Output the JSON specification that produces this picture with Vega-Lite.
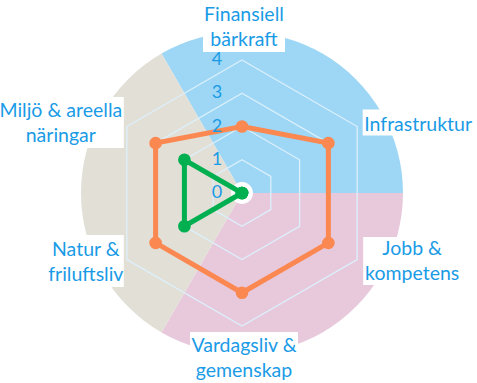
{
  "$schema": "https://vega.github.io/schema/vega-lite/v6.json",
  "width": 477,
  "height": 383,
  "autosize": {"type": "none"},
  "padding": 0,
  "background": "white",
  "config": {"view": {"stroke": null}, "text": {"font": "Lato"}},
  "resolve": {"scale": {"color": "independent"}},
  "datasets": {
    "sectors": [
      {"sector": "A", "v": 1},
      {"sector": "B", "v": 1},
      {"sector": "C", "v": 1}
    ],
    "axes": [
      {"i": 0, "label": "Finansiell\nbärkraft"},
      {"i": 1, "label": "Infrastruktur"},
      {"i": 2, "label": "Jobb &\nkompetens"},
      {"i": 3, "label": "Vardagsliv &\ngemenskap"},
      {"i": 4, "label": "Natur &\nfriluftsliv"},
      {"i": 5, "label": "Miljö & areella\nnäringar"}
    ],
    "scores": [
      {"serie": "Serie 1", "i": 0, "value": 2},
      {"serie": "Serie 1", "i": 1, "value": 3},
      {"serie": "Serie 1", "i": 2, "value": 3},
      {"serie": "Serie 1", "i": 3, "value": 3},
      {"serie": "Serie 1", "i": 4, "value": 3},
      {"serie": "Serie 1", "i": 5, "value": 3},
      {"serie": "Serie 2", "i": 0, "value": 0},
      {"serie": "Serie 2", "i": 1, "value": 0},
      {"serie": "Serie 2", "i": 2, "value": 0},
      {"serie": "Serie 2", "i": 3, "value": 0},
      {"serie": "Serie 2", "i": 4, "value": 2},
      {"serie": "Serie 2", "i": 5, "value": 2}
    ],
    "rings": [
      {"r": 1, "i": [0, 1, 2, 3, 4, 5]},
      {"r": 2, "i": [0, 1, 2, 3, 4, 5]},
      {"r": 3, "i": [0, 1, 2, 3, 4, 5]},
      {"r": 4, "i": [0, 1, 2, 3, 4, 5]}
    ],
    "ticks": [{"t": 0}, {"t": 1}, {"t": 2}, {"t": 3}, {"t": 4}]
  },
  "layer": [
    {
      "data": {"name": "sectors"},
      "mark": {"type": "arc", "outerRadius": 161, "innerRadius": 11},
      "encoding": {
        "theta": {"field": "v", "type": "quantitative", "stack": true, "scale": {"range": [-0.5236, 5.7596]}},
        "color": {"field": "sector", "type": "nominal", "scale": {"domain": ["A", "B", "C"], "range": ["#9dd7f5", "#e8c9dc", "#e2dfd7"]}, "legend": null},
        "order": {"field": "sector"},
        "x": {"datum": 0, "type": "quantitative", "scale": {"domain": [-7.278, 7.068], "nice": false, "zero": false}, "axis": null},
        "y": {"datum": 0, "type": "quantitative", "scale": {"domain": [-5.714, 5.805], "nice": false, "zero": false}, "axis": null}
      }
    },
    {
      "data": {"name": "rings"},
      "transform": [
        {"flatten": ["i"]},
        {"calculate": "datum.r * sin(datum.i * PI / 3)", "as": "x"},
        {"calculate": "datum.r * cos(datum.i * PI / 3)", "as": "y"}
      ],
      "mark": {"type": "line", "interpolate": "linear-closed", "stroke": "#dcf0fb", "strokeWidth": 1.3},
      "encoding": {
        "x": {"field": "x", "type": "quantitative", "axis": null},
        "y": {"field": "y", "type": "quantitative", "axis": null},
        "detail": {"field": "r"},
        "order": {"field": "i"}
      }
    },
    {
      "data": {"name": "scores"},
      "transform": [
        {"calculate": "datum.value * sin(datum.i * PI / 3)", "as": "x"},
        {"calculate": "datum.value * cos(datum.i * PI / 3)", "as": "y"}
      ],
      "layer": [
        {
          "mark": {"type": "line", "interpolate": "linear-closed", "strokeWidth": 5},
          "encoding": {
            "x": {"field": "x", "type": "quantitative", "axis": null},
            "y": {"field": "y", "type": "quantitative", "axis": null},
            "color": {"field": "serie", "type": "nominal", "scale": {"domain": ["Serie 1", "Serie 2"], "range": ["#fb8850", "#00b050"]}, "legend": null},
            "order": {"field": "i"}
          }
        },
        {
          "mark": {"type": "point", "filled": true, "shape": "circle", "size": 160, "opacity": 1},
          "encoding": {
            "x": {"field": "x", "type": "quantitative", "axis": null},
            "y": {"field": "y", "type": "quantitative", "axis": null},
            "color": {"field": "serie", "type": "nominal", "legend": null}
          }
        }
      ]
    },
    {
      "data": {"name": "ticks"},
      "mark": {"type": "text", "fontSize": 18, "color": "#1a9be6", "align": "center", "baseline": "middle", "dx": -25},
      "encoding": {
        "x": {"datum": 0, "type": "quantitative"},
        "y": {"field": "t", "type": "quantitative"},
        "text": {"field": "t", "type": "quantitative"}
      }
    },
    {
      "data": {"name": "axes"},
      "transform": [
        {"calculate": "4 * sin(datum.i * PI / 3)", "as": "ax"},
        {"calculate": "4 * cos(datum.i * PI / 3)", "as": "ay"}
      ],
      "encoding": {
        "x": {"field": "ax", "type": "quantitative"},
        "y": {"field": "ay", "type": "quantitative"}
      },
      "layer": [
        {"transform": [{"filter": "datum.i == 0"}], "mark": {"type": "rect", "fill": "white", "width": 82, "height": 50, "xOffset": 2, "yOffset": -33}},
        {"transform": [{"filter": "datum.i == 1"}], "mark": {"type": "rect", "fill": "white", "width": 109, "height": 26, "xOffset": 60, "yOffset": -4}},
        {"transform": [{"filter": "datum.i == 2"}], "mark": {"type": "rect", "fill": "white", "width": 98, "height": 48, "xOffset": 55, "yOffset": 1.5}},
        {"transform": [{"filter": "datum.i == 3"}], "mark": {"type": "rect", "fill": "white", "width": 108, "height": 54, "xOffset": 2, "yOffset": 33}},
        {"transform": [{"filter": "datum.i == 4"}], "mark": {"type": "rect", "fill": "white", "width": 76, "height": 52, "xOffset": -41, "yOffset": 1.5}},
        {"transform": [{"filter": "datum.i == 5"}], "mark": {"type": "rect", "fill": "white", "width": 124, "height": 51, "xOffset": -65, "yOffset": -4}},
        {"transform": [{"filter": "datum.i == 0"}], "mark": {"type": "text", "fontSize": 19.5, "lineHeight": 25, "lineBreak": "\n", "color": "#1a9be6", "align": "center", "baseline": "middle", "dx": 2, "dy": -45}, "encoding": {"text": {"field": "label"}}},
        {"transform": [{"filter": "datum.i == 1"}], "mark": {"type": "text", "fontSize": 19.5, "lineHeight": 25, "lineBreak": "\n", "color": "#1a9be6", "align": "center", "baseline": "middle", "dx": 61, "dy": -2}, "encoding": {"text": {"field": "label"}}},
        {"transform": [{"filter": "datum.i == 2"}], "mark": {"type": "text", "fontSize": 19.5, "lineHeight": 25, "lineBreak": "\n", "color": "#1a9be6", "align": "center", "baseline": "middle", "dx": 55, "dy": -10.5}, "encoding": {"text": {"field": "label"}}},
        {"transform": [{"filter": "datum.i == 3"}], "mark": {"type": "text", "fontSize": 19.5, "lineHeight": 25, "lineBreak": "\n", "color": "#1a9be6", "align": "center", "baseline": "middle", "dx": 2, "dy": 20}, "encoding": {"text": {"field": "label"}}},
        {"transform": [{"filter": "datum.i == 4"}], "mark": {"type": "text", "fontSize": 19.5, "lineHeight": 25, "lineBreak": "\n", "color": "#1a9be6", "align": "center", "baseline": "middle", "dx": -41, "dy": -10}, "encoding": {"text": {"field": "label"}}},
        {"transform": [{"filter": "datum.i == 5"}], "mark": {"type": "text", "fontSize": 19.5, "lineHeight": 25, "lineBreak": "\n", "color": "#1a9be6", "align": "center", "baseline": "middle", "dx": -66, "dy": -15.5}, "encoding": {"text": {"field": "label"}}}
      ]
    }
  ]
}
